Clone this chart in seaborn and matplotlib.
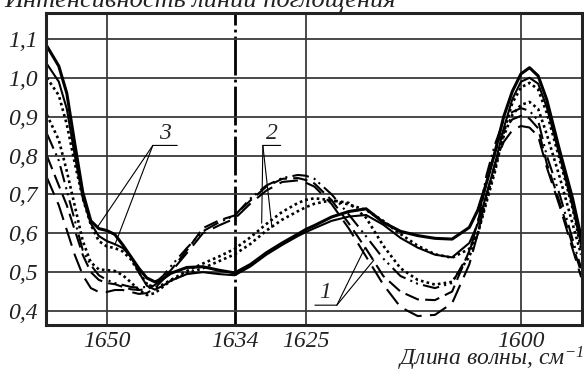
import numpy as np
import pandas as pd
import matplotlib
matplotlib.use("Agg")
import matplotlib.pyplot as plt
import seaborn as sns

# wavenumber samples, cm^-1
wn = [1657.5, 1656, 1655, 1654, 1653, 1652, 1651, 1650, 1649, 1648,
      1647, 1646, 1645, 1644, 1643, 1642, 1640, 1638, 1636, 1634,
      1632, 1630, 1628, 1626, 1625, 1624, 1622, 1620, 1618, 1616,
      1614, 1612, 1610, 1608, 1606, 1605, 1604, 1603, 1602, 1601,
      1600, 1599, 1598, 1597, 1595.5, 1594, 1593]

# group 3 (solid)
s1 = [1.082, 1.03, 0.96, 0.83, 0.705, 0.632, 0.612, 0.607, 0.597, 0.57,
      0.54, 0.51, 0.485, 0.475, 0.483, 0.497, 0.512, 0.514, 0.505, 0.498,
      0.52, 0.55, 0.575, 0.598, 0.61, 0.62, 0.642, 0.656, 0.663, 0.628,
      0.605, 0.594, 0.587, 0.585, 0.615, 0.66, 0.73, 0.81, 0.9, 0.965,
      1.01, 1.026, 1.005, 0.944, 0.813, 0.69, 0.59]
s2 = [1.036, 0.99, 0.92, 0.8, 0.69, 0.625, 0.593, 0.58, 0.572, 0.562,
      0.54, 0.5, 0.465, 0.455, 0.465, 0.478, 0.495, 0.5, 0.495, 0.492,
      0.515, 0.545, 0.57, 0.593, 0.603, 0.613, 0.632, 0.643, 0.647, 0.622,
      0.588, 0.563, 0.545, 0.538, 0.575, 0.625, 0.7, 0.78, 0.87, 0.945,
      0.99, 1.0, 0.985, 0.925, 0.8, 0.67, 0.57]
# group 2 (dotted)
d1 = [1.0, 0.955, 0.88, 0.78, 0.69, 0.622, 0.58, 0.566, 0.562, 0.553,
      0.533, 0.5, 0.47, 0.46, 0.468, 0.48, 0.503, 0.522, 0.54, 0.56,
      0.59, 0.624, 0.655, 0.678, 0.686, 0.69, 0.685, 0.674, 0.66, 0.632,
      0.598, 0.568, 0.546, 0.537, 0.56, 0.6, 0.68, 0.76, 0.86, 0.935,
      0.975, 0.987, 0.97, 0.91, 0.79, 0.665, 0.56]
d2 = [0.905, 0.84, 0.76, 0.67, 0.58, 0.525, 0.507, 0.505, 0.503, 0.492,
      0.474, 0.454, 0.441, 0.446, 0.462, 0.478, 0.497, 0.51, 0.528, 0.546,
      0.573, 0.607, 0.635, 0.657, 0.667, 0.676, 0.685, 0.678, 0.64, 0.568,
      0.51, 0.48, 0.468, 0.475, 0.54, 0.6, 0.69, 0.77, 0.85, 0.905,
      0.93, 0.938, 0.92, 0.855, 0.745, 0.625, 0.545]
# group 1 (dash-dot-dot and dashed)
dd = [0.857, 0.787, 0.71, 0.633, 0.556, 0.518, 0.492, 0.48, 0.472, 0.467,
      0.462, 0.46, 0.462, 0.472, 0.49, 0.515, 0.562, 0.605, 0.628, 0.646,
      0.69, 0.723, 0.742, 0.75, 0.748, 0.74, 0.7, 0.648, 0.592, 0.535,
      0.49, 0.47, 0.459, 0.472, 0.55, 0.63, 0.75, 0.83, 0.89, 0.912,
      0.922, 0.915, 0.89, 0.8, 0.7, 0.585, 0.51]
l1 = [0.8, 0.723, 0.672, 0.608, 0.544, 0.5, 0.48, 0.472, 0.469, 0.462,
      0.456, 0.454, 0.456, 0.467, 0.485, 0.505, 0.556, 0.613, 0.633, 0.646,
      0.685, 0.72, 0.74, 0.742, 0.737, 0.728, 0.685, 0.625, 0.56, 0.49,
      0.45, 0.43, 0.428, 0.45, 0.555, 0.63, 0.73, 0.81, 0.865, 0.893,
      0.902, 0.895, 0.87, 0.78, 0.68, 0.57, 0.5]
l2 = [0.744, 0.672, 0.608, 0.544, 0.492, 0.459, 0.449, 0.449, 0.454, 0.454,
      0.449, 0.444, 0.446, 0.459, 0.48, 0.5, 0.549, 0.6, 0.62, 0.638,
      0.677, 0.71, 0.732, 0.736, 0.73, 0.72, 0.675, 0.612, 0.54, 0.468,
      0.41, 0.387, 0.39, 0.42, 0.52, 0.6, 0.7, 0.78, 0.835, 0.865,
      0.876, 0.872, 0.85, 0.77, 0.67, 0.56, 0.487]

x_ticks = [1650, 1634, 1625, 1600]
y_ticks = [0.4, 0.5, 0.6, 0.7, 0.8, 0.9, 1.0, 1.1]
y_labels = ["0,4", "0,5", "0,6", "0,7", "0,8", "0,9", "1,0", "1,1"]

title = "Интенсивность линий поглощения"
xlabel = "Длина волны, см$^{-1}$"

# the printed axis is not evenly spaced between the labelled lines;
# scale is increasing in -position, so the axis runs high -> low wavenumber
knot_wn = np.array([1590, 1600, 1625, 1634, 1650, 1660])
knot_u = -np.array([607.0, 521, 306, 235, 107, 27])


def fwd(x):
    return np.interp(x, knot_wn, knot_u)


def inv(u):
    return np.interp(u, knot_u, knot_wn)


sns.set_style("white")
plt.rcParams["font.family"] = ["Liberation Serif", "DejaVu Serif"]
plt.rcParams["mathtext.fontset"] = "custom"
plt.rcParams["mathtext.it"] = "Liberation Serif:italic"
plt.rcParams["mathtext.rm"] = "Liberation Serif:italic"
plt.rcParams["mathtext.default"] = "it"

curves = [
    (s1, "-", 2.2),
    (s2, "-", 1.5),
    (d1, (0, (1, 1.2)), 1.9),
    (d2, (0, (1, 1.2)), 1.9),
    (dd, (0, (8, 2.5, 1, 2, 1, 2.5)), 1.5),
    (l1, (0, (7, 3)), 1.5),
    (l2, (0, (9, 4)), 1.5),
]

fig = plt.figure(figsize=(5.84, 3.74), dpi=100)
ax = fig.add_axes([46 / 584, 1 - 325 / 374, 536 / 584, 312 / 374])

for vals, ls, lw in curves:
    sns.lineplot(x=wn, y=vals, ax=ax, color="black", linewidth=lw,
                 linestyle=ls, errorbar=None, sort=False)

ax.set_xscale("function", functions=(fwd, inv))
ax.set_xlim(1657.6, 1592.9)
ax.set_ylim(0.364, 1.1667)

ax.set_xticks(x_ticks, [str(t) for t in x_ticks])
ax.set_yticks(y_ticks, y_labels)
ax.xaxis.set_minor_locator(matplotlib.ticker.NullLocator())
ax.tick_params(length=0, labelsize=17)
ax.tick_params(axis="x", pad=4)
ax.tick_params(axis="y", pad=6)
for lab in ax.get_xticklabels() + ax.get_yticklabels():
    lab.set_fontstyle("italic")
    lab.set_color("#222222")

ax.grid(True, color="#3a3a3a", linewidth=1.3)
ax.set_axisbelow(True)
g = ax.xaxis.get_gridlines()[1]
g.set_color("black")
g.set_linewidth(2.0)
g.set_linestyle((0, (14, 1.5, 1, 1.5)))

for sp in ax.spines.values():
    sp.set_linewidth(2.2)
    sp.set_color("#222222")

ax.set_xlabel("")
ax.set_ylabel("")

# group labels with leader lines
kw = dict(color="black", linewidth=0.8)
ax.plot([1641.2, 1644.25, 1651.2], [0.826, 0.826, 0.615], **kw)
ax.plot([1644.25, 1649.0], [0.826, 0.570], **kw)
ax.text(1642.7, 0.83, "3", fontsize=17, style="italic", ha="center", va="bottom")

ax.plot([1628.2, 1630.45, 1630.6], [0.826, 0.826, 0.626], **kw)
ax.plot([1630.45, 1629.3], [0.826, 0.615], **kw)
ax.text(1629.3, 0.83, "2", fontsize=17, style="italic", ha="center", va="bottom")

ax.plot([1623.95, 1621.4, 1618.1], [0.415, 0.415, 0.564], **kw)
ax.plot([1621.4, 1617.1], [0.415, 0.531], **kw)
ax.text(1622.8, 0.42, "1", fontsize=17, style="italic", ha="center", va="bottom")

fig.text(0.008, 1 - 7 / 374, title, fontsize=19, style="italic",
         ha="left", va="baseline", color="#222222")
fig.text(0.999, 0.004, xlabel, fontsize=17, style="italic",
         ha="right", va="bottom", color="#222222")

fig.savefig("out.png", dpi=100)
